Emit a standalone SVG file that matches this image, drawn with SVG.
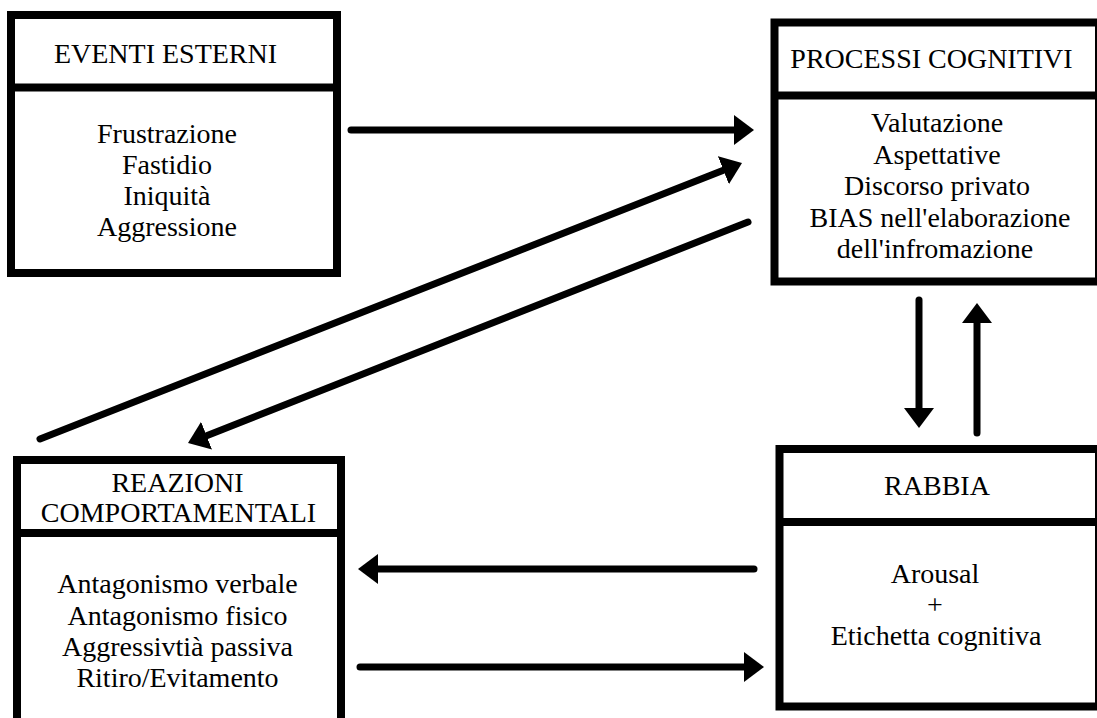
<svg xmlns="http://www.w3.org/2000/svg" width="1097" height="718" viewBox="0 0 1097 718">
<style>
.box{fill:#fff;stroke:#000;stroke-width:8}
.div{stroke:#000;stroke-width:8}
.t{font-family:'Liberation Serif','Times New Roman',serif;font-size:28px;fill:#000;text-anchor:middle}
.c{stroke:#000;stroke-width:7;stroke-linecap:round;fill:none}
</style>
<defs>
<marker id="ah" viewBox="0 0 20 30" refX="0" refY="15" markerWidth="20" markerHeight="30" markerUnits="userSpaceOnUse" orient="auto">
<path d="M0,0 L20,15 L0,30 Z" fill="#000"/>
</marker>
</defs>
<rect width="1097" height="718" fill="#fff"/>
<g id="eventi">
<rect class="box" x="11" y="15" width="326" height="258"/>
<line class="div" x1="11" y1="87.5" x2="337" y2="87.5"/>
<text class="t" x="165.5" y="63">EVENTI ESTERNI</text>
<text class="t" x="167" y="143">Frustrazione</text>
<text class="t" x="167" y="174">Fastidio</text>
<text class="t" x="167" y="205">Iniquità</text>
<text class="t" x="167" y="236">Aggressione</text>
</g>
<g id="processi">
<rect class="box" x="774.5" y="22.5" width="324.5" height="259"/>
<line class="div" x1="774.5" y1="95.5" x2="1099" y2="95.5"/>
<text class="t" x="931.5" y="68">PROCESSI COGNITIVI</text>
<text class="t" x="937" y="132">Valutazione</text>
<text class="t" x="937" y="163.5">Aspettative</text>
<text class="t" x="937" y="195">Discorso privato</text>
<text class="t" x="940" y="226.5">BIAS nell'elaborazione</text>
<text class="t" x="935" y="258">dell'infromazione</text>
</g>
<g id="reazioni">
<rect class="box" x="17" y="460" width="324" height="262"/>
<line class="div" x1="17" y1="533" x2="341" y2="533"/>
<text class="t" x="177.5" y="492">REAZIONI</text>
<text class="t" x="178.5" y="522">COMPORTAMENTALI</text>
<text class="t" x="177.5" y="593">Antagonismo verbale</text>
<text class="t" x="177.5" y="625">Antagonismo fisico</text>
<text class="t" x="177.5" y="656">Aggressivtià passiva</text>
<text class="t" x="177.5" y="687">Ritiro/Evitamento</text>
</g>
<g id="rabbia">
<rect class="box" x="779.5" y="449" width="319.5" height="257.5"/>
<line class="div" x1="779.5" y1="522" x2="1099" y2="522"/>
<text class="t" x="937" y="495">RABBIA</text>
<text class="t" x="935" y="583">Arousal</text>
<text class="t" x="935" y="614">+</text>
<text class="t" x="936" y="645">Etichetta cognitiva</text>
</g>
<g id="connectors">
<line class="c" x1="351" y1="130" x2="734" y2="130" marker-end="url(#ah)"/>
<line class="c" x1="40" y1="439" x2="723.4" y2="170.3" marker-end="url(#ah)"/>
<line class="c" x1="748" y1="222" x2="206.6" y2="435.7" marker-end="url(#ah)"/>
<line class="c" x1="919" y1="300" x2="919" y2="408" stroke-linecap="butt" marker-end="url(#ah)"/>
<line class="c" x1="977" y1="433" x2="977" y2="323" stroke-linecap="butt" marker-end="url(#ah)"/>
<line class="c" x1="754" y1="569" x2="378" y2="569" marker-end="url(#ah)"/>
<line class="c" x1="360" y1="667" x2="744" y2="667" marker-end="url(#ah)"/>
</g>
</svg>
